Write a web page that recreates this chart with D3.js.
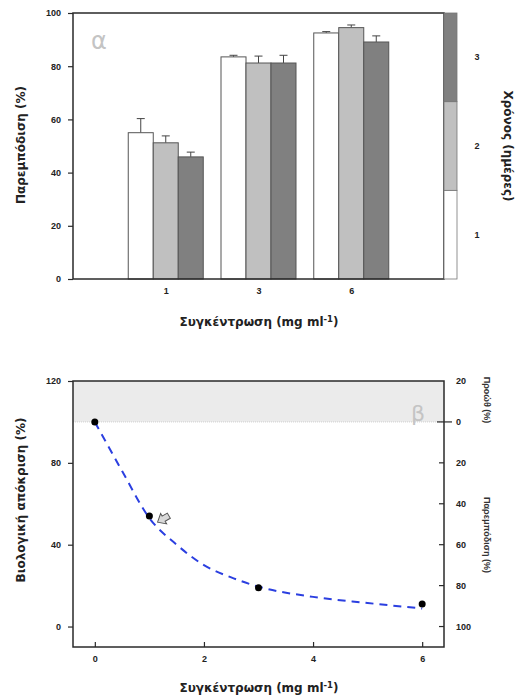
<!DOCTYPE html>
<html><head><meta charset="utf-8">
<script src="https://cdn.jsdelivr.net/npm/d3@7"></script>
<style>
body{margin:0;background:#fff;}
svg{display:block;}
.tk{font-family:"Liberation Sans",Arial,sans-serif;font-weight:bold;font-size:9px;fill:#222;}
.ttl{font-family:"DejaVu Sans",Verdana,sans-serif;font-weight:bold;font-size:12px;fill:#222;}
</style></head><body>
<script>
// ---- Data: panel α (bar chart) ----
const concCategories = ["1", "3", "6"];
const dayLabels = ["1", "2", "3"];
const day1Values = [55.0, 83.5, 92.5];
const day2Values = [51.2, 81.2, 94.5];
const day3Values = [45.9, 81.2, 89.1];
const day1Errors = [5.3, 0.6, 0.5];
const day2Errors = [2.6, 2.6, 1.0];
const day3Errors = [1.8, 2.9, 2.3];
const barYTicks = [0, 20, 40, 60, 80, 100];

// ---- Data: panel β (dose response) ----
const pointX = [0, 1, 3, 6];
const pointY = [100, 54, 19, 11];
const fitX = [0, 0.5, 1, 1.5, 2, 2.5, 3, 4, 5, 6];
const fitY = [100, 76, 53, 40, 30, 24, 19.5, 14.5, 11.5, 8.8];
const leftTicks = [0, 40, 80, 120];
const rightTicks = [20, 0, 20, 40, 60, 80, 100];   // labels (magnitudes)
const rightTickPos = [120, 100, 80, 60, 40, 20, 0]; // positions on left scale
const xTicks = [0, 2, 4, 6];

const W = 519, H = 698;
const svg = d3.select("body").append("svg").attr("width", W).attr("height", H);
const axisColor = "#2a2a2a";
const fills = ["#ffffff", "#c0c0c0", "#808080"];

// ================= Panel α =================
const L = 73, R = 444, T1 = 13, B1 = 279;
const x1 = d3.scalePoint().domain(concCategories).range([L, R]).padding(1);
const y1 = d3.scaleLinear().domain([0, 100]).range([B1, T1]);
const g1 = svg.append("g");
const barW = 25;
const series = [
  {vals: day1Values, errs: day1Errors},
  {vals: day2Values, errs: day2Errors},
  {vals: day3Values, errs: day3Errors}
];
series.forEach((s, si) => {
  concCategories.forEach((c, ci) => {
    const cx = x1(c) + (si - 1) * barW;
    const v = s.vals[ci], e = s.errs[ci];
    g1.append("line").attr("x1", cx).attr("x2", cx)
      .attr("y1", y1(v)).attr("y2", y1(v + e)).attr("stroke", "#444").attr("stroke-width", 1);
    g1.append("line").attr("x1", cx - 4).attr("x2", cx + 4)
      .attr("y1", y1(v + e)).attr("y2", y1(v + e)).attr("stroke", "#444").attr("stroke-width", 1);
    g1.append("rect").attr("x", cx - barW / 2).attr("y", y1(v))
      .attr("width", barW).attr("height", B1 - y1(v))
      .attr("fill", fills[si]).attr("stroke", "#555").attr("stroke-width", 1);
  });
});
g1.append("rect").attr("x", L).attr("y", T1).attr("width", R - L).attr("height", B1 - T1)
  .attr("fill", "none").attr("stroke", axisColor).attr("stroke-width", 1.5);
const ax1 = g1.append("g").attr("transform", `translate(${L},0)`)
  .call(d3.axisLeft(y1).tickValues(barYTicks).tickSize(5).tickPadding(7));
ax1.select(".domain").remove();
ax1.selectAll("line").attr("stroke", axisColor).attr("stroke-width", 1.2);
ax1.selectAll("text").attr("class", "tk");
const bx1 = g1.append("g").attr("transform", `translate(0,${B1})`)
  .call(d3.axisBottom(x1).tickSize(0).tickPadding(9));
bx1.select(".domain").remove();
bx1.selectAll("text").attr("class", "tk");
const yLeg = d3.scaleBand().domain(dayLabels).range([B1, T1]);
dayLabels.forEach((d, i) => {
  g1.append("rect").attr("x", R).attr("y", yLeg(d)).attr("width", 13).attr("height", yLeg.bandwidth())
    .attr("fill", fills[i]).attr("stroke", "#777").attr("stroke-width", 0.8);
  g1.append("text").attr("class", "tk").attr("x", 477).attr("y", yLeg(d) + yLeg.bandwidth() / 2 + 3)
    .attr("text-anchor", "middle").text(d);
});
g1.append("text").attr("class", "ttl").attr("text-anchor", "middle")
  .attr("transform", `translate(504,146) rotate(90)`).text("Χρόνος (ημέρες)");
g1.append("text").attr("class", "ttl").attr("text-anchor", "middle")
  .attr("transform", `translate(25,145) rotate(-90)`).text("Παρεμπόδιση (%)");
const xt1 = g1.append("text").attr("class", "ttl").attr("text-anchor", "middle").attr("x", 259).attr("y", 326);
xt1.append("tspan").text("Συγκέντρωση (mg ml");
xt1.append("tspan").attr("dy", -4).attr("font-size", "8.5px").text("-1");
xt1.append("tspan").attr("dy", 4).text(")");
g1.append("text").attr("x", 99).attr("y", 49).attr("text-anchor", "middle")
  .attr("font-family", "DejaVu Sans, sans-serif").attr("font-size", "24px").attr("fill", "#c4c4c4").text("α");

// ================= Panel β =================
const T2 = 381, B2 = 647;
const x2 = d3.scaleLinear().domain([-0.4, 6.4]).range([L, R]);
const y2 = d3.scaleLinear().domain([-10, 120]).range([B2, T2]);
const g2 = svg.append("g");
g2.append("rect").attr("x", L).attr("y", y2(120)).attr("width", R - L).attr("height", y2(100) - y2(120))
  .attr("fill", "#ebebeb");
g2.append("line").attr("x1", L).attr("x2", R).attr("y1", y2(100)).attr("y2", y2(100))
  .attr("stroke", "#cfcfcf").attr("stroke-width", 1).attr("stroke-dasharray", "1,1");
g2.append("text").attr("x", 418).attr("y", 421).attr("text-anchor", "middle")
  .attr("font-family", "DejaVu Sans, sans-serif").attr("font-size", "22px").attr("fill", "#c4c4c4").text("β");
const fitData = fitX.map((x, i) => [x, fitY[i]]);
g2.append("path").datum(fitData)
  .attr("d", d3.line().x(d => x2(d[0])).y(d => y2(d[1])).curve(d3.curveMonotoneX))
  .attr("fill", "none").attr("stroke", "#2b3fe0").attr("stroke-width", 2).attr("stroke-dasharray", "8,6");
pointX.forEach((x, i) => {
  g2.append("circle").attr("cx", x2(x)).attr("cy", y2(pointY[i])).attr("r", 3.5).attr("fill", "#000");
});
const ax = x2(1.15), ay = y2(51);
g2.append("path")
  .attr("d", "M0,0 L7,-6 L7,-3 L13,-3 L13,3 L7,3 L7,6 Z")
  .attr("transform", `translate(${ax},${ay}) rotate(-30)`)
  .attr("fill", "#d9d9d9").attr("stroke", "#555").attr("stroke-width", 1);
g2.append("rect").attr("x", L).attr("y", T2).attr("width", R - L).attr("height", B2 - T2)
  .attr("fill", "none").attr("stroke", axisColor).attr("stroke-width", 1.5);
const la = g2.append("g").attr("transform", `translate(${L},0)`)
  .call(d3.axisLeft(y2).tickValues(leftTicks).tickSize(5).tickPadding(7));
la.select(".domain").remove();
la.selectAll("line").attr("stroke", axisColor).attr("stroke-width", 1.2);
la.selectAll("text").attr("class", "tk");
const ba = g2.append("g").attr("transform", `translate(0,${B2})`)
  .call(d3.axisBottom(x2).tickValues(xTicks).tickFormat(d3.format("d")).tickSize(-5).tickPadding(9));
ba.select(".domain").remove();
ba.selectAll("line").attr("stroke", axisColor).attr("stroke-width", 1.2);
ba.selectAll("text").attr("class", "tk");
rightTickPos.forEach((p, i) => {
  const yy = y2(p);
  if (p !== 120) {
    g2.append("line").attr("x1", p === 100 ? R - 7 : R - 5).attr("x2", p === 100 ? R + 8 : R)
      .attr("y1", yy).attr("y2", yy).attr("stroke", axisColor).attr("stroke-width", 1.2);
  }
  g2.append("text").attr("class", "tk").attr("x", 456).attr("y", yy + 3).text(rightTicks[i]);
});
g2.append("text").attr("text-anchor", "middle").attr("font-family", "Liberation Sans, Arial, sans-serif")
  .attr("font-weight", "bold").attr("font-size", "9px").attr("fill", "#333")
  .attr("transform", `translate(484,400) rotate(90)`).text("Προώθ (%)");
g2.append("text").attr("text-anchor", "middle").attr("font-family", "Liberation Sans, Arial, sans-serif")
  .attr("font-weight", "bold").attr("font-size", "9px").attr("fill", "#333")
  .attr("transform", `translate(484,535) rotate(90)`).text("Παρεμπόδιση (%)");
g2.append("text").attr("class", "ttl").attr("text-anchor", "middle")
  .attr("transform", `translate(25,500) rotate(-90)`).text("Βιολογική απόκριση (%)");
const xt2 = g2.append("text").attr("class", "ttl").attr("text-anchor", "middle").attr("x", 259).attr("y", 692);
xt2.append("tspan").text("Συγκέντρωση (mg ml");
xt2.append("tspan").attr("dy", -4).attr("font-size", "8.5px").text("-1");
xt2.append("tspan").attr("dy", 4).text(")");
</script>
</body></html>
